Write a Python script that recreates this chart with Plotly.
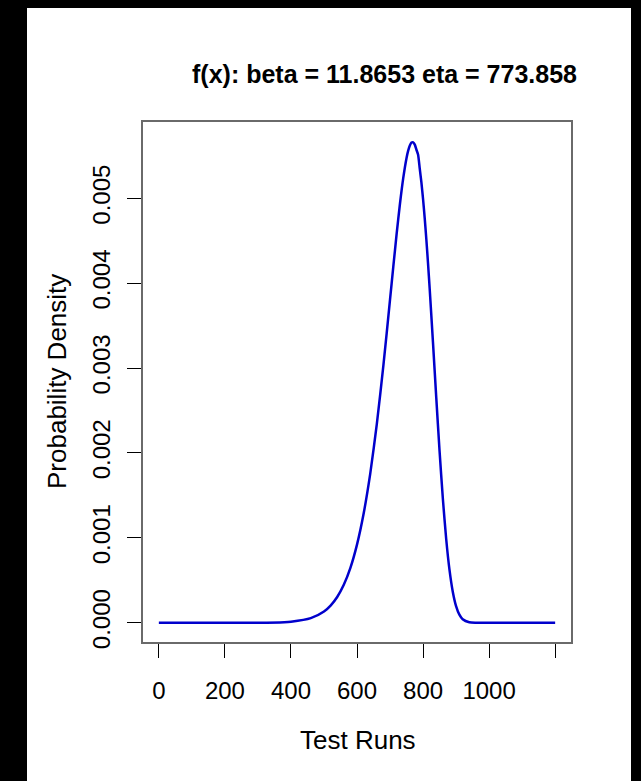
import plotly.graph_objects as go

# Values (Weibull density, beta=11.8653, eta=773.858)
test_runs = [0, 100, 200, 300, 380, 400, 460, 500, 520, 540, 560, 580, 600, 620, 640,
             660, 680, 700, 710, 720, 730, 740, 750, 755, 760, 765, 770, 775, 780, 785,
             790, 795, 800, 805, 810, 815, 820, 830,
             840, 850, 860, 870, 880, 890, 900, 910, 920, 940, 960, 1000, 1100, 1200]
density = [0.0, 0.0, 0.0, 0.0000001, 0.000006, 0.0000118, 0.0000538, 0.0001324, 0.000202,
           0.0003033, 0.000447, 0.0006465, 0.00092, 0.001283, 0.001753,
           0.00234, 0.003033, 0.003805, 0.004197, 0.004579, 0.004932, 0.005237, 0.005475,
           0.005561, 0.005622, 0.005656, 0.005659, 0.005631, 0.005571, 0.005512,
           0.005348, 0.005186, 0.004991, 0.004767, 0.004514, 0.004237, 0.00394, 0.003305,
           0.002651, 0.002023, 0.00146, 0.000989, 0.000625, 0.000366, 0.000196, 0.000095,
           0.0000417, 0.0000055, 0.0, 0.0, 0.0, 0.0]

x_ticks = [0, 200, 400, 600, 800, 1000, 1200]
x_tick_labels = ["0", "200", "400", "600", "800", "1000", ""]
y_ticks = [0.000, 0.001, 0.002, 0.003, 0.004, 0.005]
y_tick_labels = ["0.000", "0.001", "0.002", "0.003", "0.004", "0.005"]

title_text = "f(x): beta = 11.8653 eta = 773.858"
x_title = "Test Runs"
y_title = "Probability Density"

FONT = "Liberation Sans, Arial, sans-serif"

fig = go.Figure()
fig.add_trace(go.Scatter(x=test_runs, y=density, mode="lines",
                         line=dict(color="#0000cc", width=2.5, shape="spline", smoothing=0.6),
                         showlegend=False, hoverinfo="skip"))

# The page body adds an 8px offset, so the figure is drawn 8px smaller/shifted.
OFF = 8
W, H = 641 - OFF, 781 - OFF
L, R, T, B = 143 - OFF, 571 - OFF, 122 - OFF, 642 - OFF
pw, ph = R - L, B - T

def px(xp):
    return (xp - OFF - L) / pw

def py(yp):
    return (B - (yp - OFF)) / ph

fig.add_shape(type="rect", xref="paper", yref="paper",
              x0=px(27), x1=px(631), y0=py(800), y1=py(5),
              fillcolor="white", line=dict(width=0), layer="below")

axis_common = dict(showgrid=False, zeroline=False, showline=True, mirror=True,
                   linecolor="#6a6a6a", linewidth=1.5, ticks="outside", ticklen=14,
                   tickwidth=1.2, tickcolor="black",
                   tickfont=dict(family=FONT, size=24, color="black"))

fig.update_xaxes(range=[-48, 1248], tickvals=x_ticks, ticktext=x_tick_labels,
                 ticklabelstandoff=12, **axis_common)
fig.update_yaxes(range=[-0.000227, 0.005898], tickvals=y_ticks, ticktext=y_tick_labels,
                 tickangle=-90, ticklabelstandoff=8, **axis_common)

fig.add_annotation(text=title_text, xref="paper", yref="paper", x=px(384), y=py(74),
                   xanchor="center", yanchor="middle", showarrow=False,
                   font=dict(family=FONT, size=25, color="black", weight="bold"))
fig.add_annotation(text=x_title, xref="paper", yref="paper", x=px(358), y=py(740),
                   xanchor="center", yanchor="middle", showarrow=False,
                   font=dict(family=FONT, size=26, color="black"))
fig.add_annotation(text=y_title, xref="paper", yref="paper", x=px(57), y=py(382),
                   xanchor="center", yanchor="middle", showarrow=False, textangle=-90,
                   font=dict(family=FONT, size=26, color="black"))

fig.update_layout(width=W, height=H, margin=dict(l=L, r=W - R, t=T, b=H - B, pad=0),
                  paper_bgcolor="black", plot_bgcolor="white")

fig.write_html("out.html", post_script="document.body.style.background='black';")
